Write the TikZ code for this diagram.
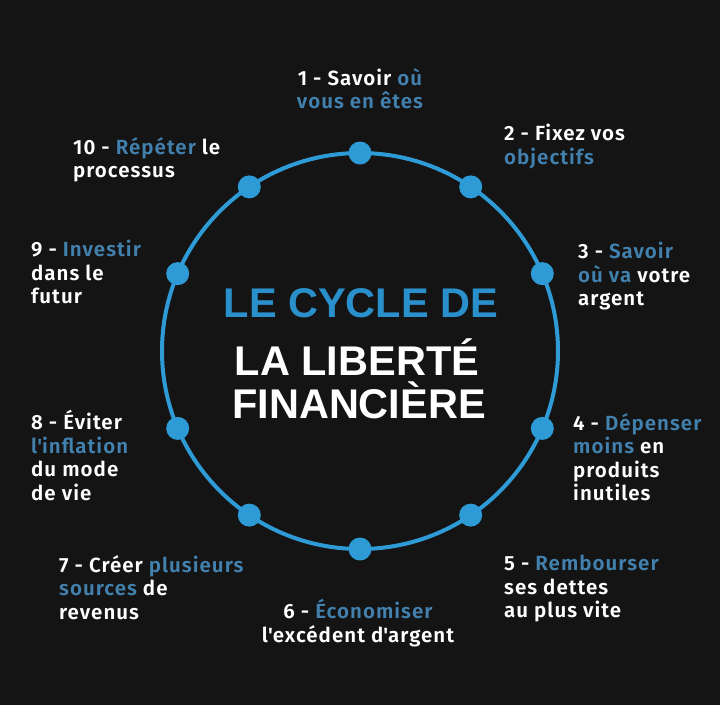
\documentclass[tikz,border=0pt]{standalone}
\usepackage{fontspec}
\usepackage{xcolor}
\usepackage{tikz}
\setmainfont{Fira Sans}
\newfontfamily\labelfont{Fira Sans SemiBold}[LetterSpace=5]
\newfontfamily\titlefont{Liberation Sans}
\definecolor{cycle_blue}{HTML}{2E9AD6}
\definecolor{title_blue}{HTML}{2A90CC}
\definecolor{label_blue}{HTML}{4281AE}
\definecolor{back_black}{HTML}{141414}
\newcommand{\hl}[1]{\textcolor{label_blue}{#1}}
\newcommand{\apos}{\textquotesingle}

\begin{document}
\begin{tikzpicture}[x=1pt, y=-1pt,
    dot/.style={circle, fill=cycle_blue, inner sep=0pt, minimum size=23pt},
    lbl/.style={text=white, inner sep=0pt, align=left, font=\labelfont\fontsize{20.5}{23.5}\selectfont},
    ttl/.style={inner sep=0pt, font=\titlefont\bfseries\fontsize{41.5}{41.5}\selectfont}]
                \fill[back_black] (0,0) rectangle (720,705);

                \draw[cycle_blue, line width=4pt] (360,351) circle [radius=198];

                \node[dot] (d1) at (360,153) {};
                \node[dot] (d2) at (470.7,186.9) {};
                \node[dot] (d3) at (542.3,273.6) {};
                \node[dot] (d4) at (542.3,428.4) {};
                \node[dot] (d5) at (470.7,515.1) {};
                \node[dot] (d6) at (360,549) {};
                \node[dot] (d7) at (249.3,515.1) {};
                \node[dot] (d8) at (177.7,428.4) {};
                \node[dot] (d9) at (177.7,273.6) {};
                \node[dot] (d10) at (249.3,186.9) {};

                \node[ttl, text=title_blue, anchor=base] (title1) at (361,317) {LE CYCLE DE};
                \node[ttl, text=white, anchor=base] (title2) at (357,375) {LA LIBERTÉ};
                \node[ttl, text=white, anchor=base] (title3) at (359,418) {FINANCIÈRE};

                \node[lbl, align=center, anchor=north] (l1) at (360,68) {1 - Savoir \hl{où}\\\hl{vous en êtes}};
                \node[lbl, anchor=north west] (l2) at (504,124) {2 - Fixez vos\\\hl{objectifs}};
                \node[lbl, anchor=north west] (l3) at (578,242) {3 - \hl{Savoir}\\\hl{où va} votre\\argent};
                \node[lbl, anchor=north west] (l4) at (573,413) {4 - \hl{Dépenser}\\\hl{moins} en\\produits\\inutiles};
                \node[lbl, anchor=north west] (l5) at (504,555) {5 - \hl{Rembourser}\\ses dettes\\au plus vite};
                \node[lbl, align=center, anchor=north] (l6) at (358,599) {6 - \hl{Économiser}\\l\apos excédent d\apos argent};
                \node[lbl, anchor=north west] (l7) at (59,555) {7 - Créer \hl{plusieurs}\\\hl{sources} de\\revenus};
                \node[lbl, anchor=north west] (l8) at (31,410) {8 - Éviter\\\hl{l\apos inflation}\\du mode\\de vie};
                \node[lbl, anchor=north west] (l9) at (31,240) {9 - \hl{Investir}\\dans le\\futur};
                \node[lbl, anchor=north west] (l10) at (73,137) {10 - \hl{Répéter} le\\processus};
\end{tikzpicture}
\end{document}
